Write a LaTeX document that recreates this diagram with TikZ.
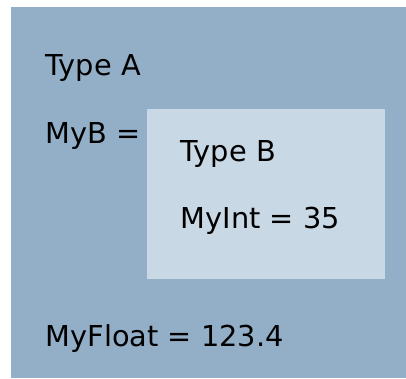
\documentclass[tikz,border=0pt]{standalone}
\usepackage{fontspec}
\setmainfont{DejaVu Sans}
\definecolor{outerc}{RGB}{146,175,199}
\definecolor{innerc}{RGB}{200,216,228}
\tikzset{lbl/.style={anchor=base west, inner sep=0pt, font=\fontsize{28.8}{32}\selectfont}}
\begin{document}
\begin{tikzpicture}[x=1pt,y=-1pt]
\useasboundingbox (0,0) rectangle (406,378);
\fill[outerc] (11,7) rectangle (406,378);
\fill[innerc] (147,109) rectangle (385,279);
\node[lbl] (ta) at (45.5,75.5) {Type A};
\node[lbl] (myb) at (45.5,143) {MyB =};
\node[lbl] (tb) at (180.5,161) {Type B};
\node[lbl] (myint) at (180.5,228) {MyInt = 35};
\node[lbl] (myfloat) at (45.5,346.5) {MyFloat = 123.4};
\end{tikzpicture}
\end{document}
